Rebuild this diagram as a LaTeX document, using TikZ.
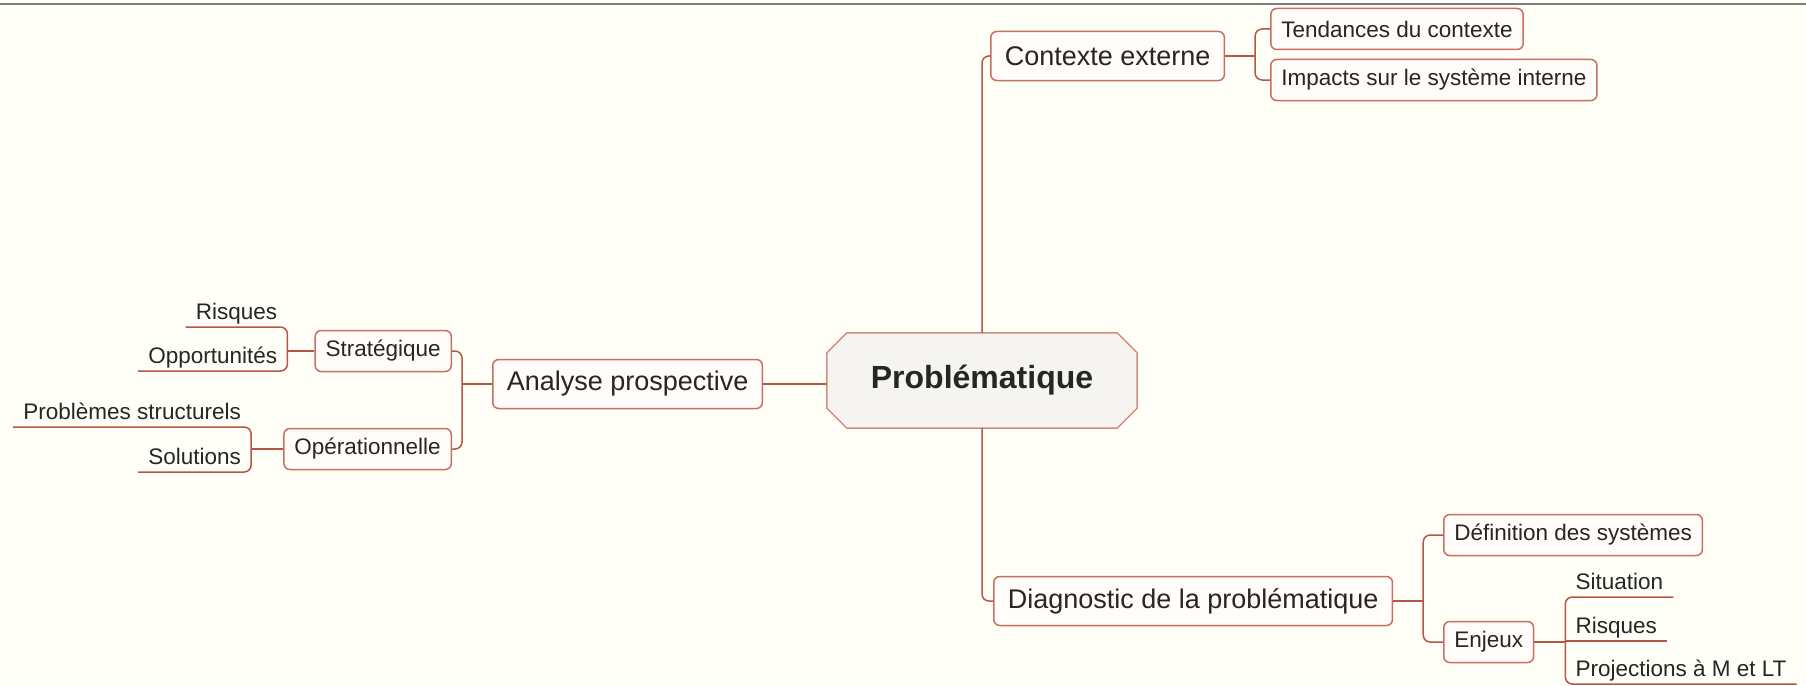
\documentclass[tikz,border=0pt]{standalone}
\usepackage{fontspec}
\setmainfont{Liberation Sans}
\usetikzlibrary{backgrounds}
\definecolor{bg}{RGB}{255,254,247}
\definecolor{edge}{RGB}{198,112,98}
\definecolor{edgeP}{RGB}{214,140,128}
\definecolor{conn}{RGB}{178,88,68}
\definecolor{cfill}{RGB}{246,244,240}
\definecolor{bfill}{RGB}{255,252,250}
\definecolor{txt}{RGB}{38,38,38}
\definecolor{topline}{RGB}{125,125,125}
\begin{document}
\begin{tikzpicture}[x=1pt,y=-1pt,
  lone/.style={draw=edge, fill=bfill, line width=1.5pt, rounded corners=6pt,
    inner xsep=14pt, inner ysep=0pt, minimum height=49pt, text=txt,
    font=\fontsize{27}{32}\selectfont},
  ltwo/.style={draw=edge, fill=bfill, line width=1.5pt, rounded corners=6pt,
    inner xsep=10.5pt, inner ysep=0pt, minimum height=41pt, text=txt,
    font=\fontsize{22.5}{27}\selectfont},
  uline/.style={inner xsep=10pt, inner ysep=2pt, text height=17pt, text depth=5pt,
    text=txt, font=\fontsize{22.5}{27}\selectfont},
  link/.style={draw=conn, line width=1.5pt, rounded corners=7pt},
  centre/.style={draw=edgeP, fill=cfill, line width=1.5pt}]
\useasboundingbox (0,0) rectangle (1806,685);
\begin{scope}[on background layer]
  \fill[bg] (0,0) rectangle (1806,685);
\end{scope}
\draw[topline, line width=2.5pt] (0,4) -- (1806,4);

% central node
\node[minimum width=310pt, minimum height=95pt, inner sep=0pt, text=txt,
      font=\bfseries\fontsize{32}{38}\selectfont] (P) at (982,380.5) {Problématique};
\begin{scope}[on background layer]
  \draw[centre] ([xshift=20pt]P.north west) -- ([xshift=-20pt]P.north east)
    -- ([yshift=-20pt]P.north east) -- ([yshift=20pt]P.south east)
    -- ([xshift=-20pt]P.south east) -- ([xshift=20pt]P.south west)
    -- ([yshift=20pt]P.south west) -- ([yshift=-20pt]P.north west) -- cycle;
\end{scope}

% level 1
\node[lone, anchor=west] (CE) at (990,56) {Contexte externe};
\node[lone, anchor=west] (AP) at (492,384) {Analyse prospective};
\node[lone, anchor=west] (D) at (993,601) {Diagnostic de la problématique};

% level 2
\node[ltwo, anchor=west] (T) at (1270,29) {Tendances du contexte};
\node[ltwo, anchor=west] (I) at (1270,80) {Impacts sur le système interne};
\node[ltwo, anchor=east] (S) at (452,351) {Stratégique};
\node[ltwo, anchor=east] (Op) at (452,449) {Opérationnelle};
\node[ltwo, anchor=west] (Def) at (1443,535) {Définition des systèmes};
\node[ltwo, anchor=west] (En) at (1443,642) {Enjeux};

% junctions
\coordinate (jC) at ([xshift=30pt]CE.east);
\coordinate (jA) at ([xshift=-30pt]AP.west);
\coordinate (jS) at ([xshift=-27pt]S.west);
\coordinate (jO) at ([xshift=-32pt]Op.west);
\coordinate (jD) at ([xshift=30pt]D.east);
\coordinate (jE) at ([xshift=31pt]En.east);

% underlined leaves
\node[uline, anchor=south east] (RiL) at (jS |- 0,327) {Risques};
\node[uline, anchor=south east] (Opp) at (jS |- 0,371) {Opportunités};
\node[uline, anchor=south east] (PS) at (jO |- 0,427) {Problèmes structurels};
\node[uline, anchor=south east] (Sol) at (jO |- 0,472) {Solutions};
\node[uline, anchor=south west] (Sit) at (jE |- 0,597) {Situation};
\node[uline, anchor=south west] (RiR) at (jE |- 0,641) {Risques};
\node[uline, anchor=south west] (Proj) at (jE |- 0,684) {Projections à M et LT};

% connectors from the centre
\draw[link] (P.north) |- (CE.west);
\draw[link] (P.south) |- (D.west);
\draw[link] (AP.east) -- (AP.east -| P.west);

% contexte externe
\draw[link] (CE.east) -- (jC);
\draw[link] (jC) |- (T.west);
\draw[link] (jC) |- (I.west);

% analyse prospective
\draw[link] (AP.west) -- (jA);
\draw[link] (jA) |- (S.east);
\draw[link] (jA) |- (Op.east);
\draw[link] (S.west) -- (jS);
\draw[link] (jS) -- (jS |- RiL.south) -- (RiL.south west);
\draw[link] (jS) -- (jS |- Opp.south) -- (Opp.south west);
\draw[link] (Op.west) -- (jO);
\draw[link] (jO) -- (jO |- PS.south) -- (PS.south west);
\draw[link] (jO) -- (jO |- Sol.south) -- (Sol.south west);

% diagnostic
\draw[link] (D.east) -- (jD);
\draw[link] (jD) |- (Def.west);
\draw[link] (jD) |- (En.west);
\draw[link] (En.east) -- (jE);
\draw[link] (jE) -- (jE |- Sit.south) -- (Sit.south east);
\draw[link] (jE |- RiR.south) -- (RiR.south east);
\draw[link] (jE) -- (jE |- Proj.south) -- (Proj.south east);
\end{tikzpicture}
\end{document}
